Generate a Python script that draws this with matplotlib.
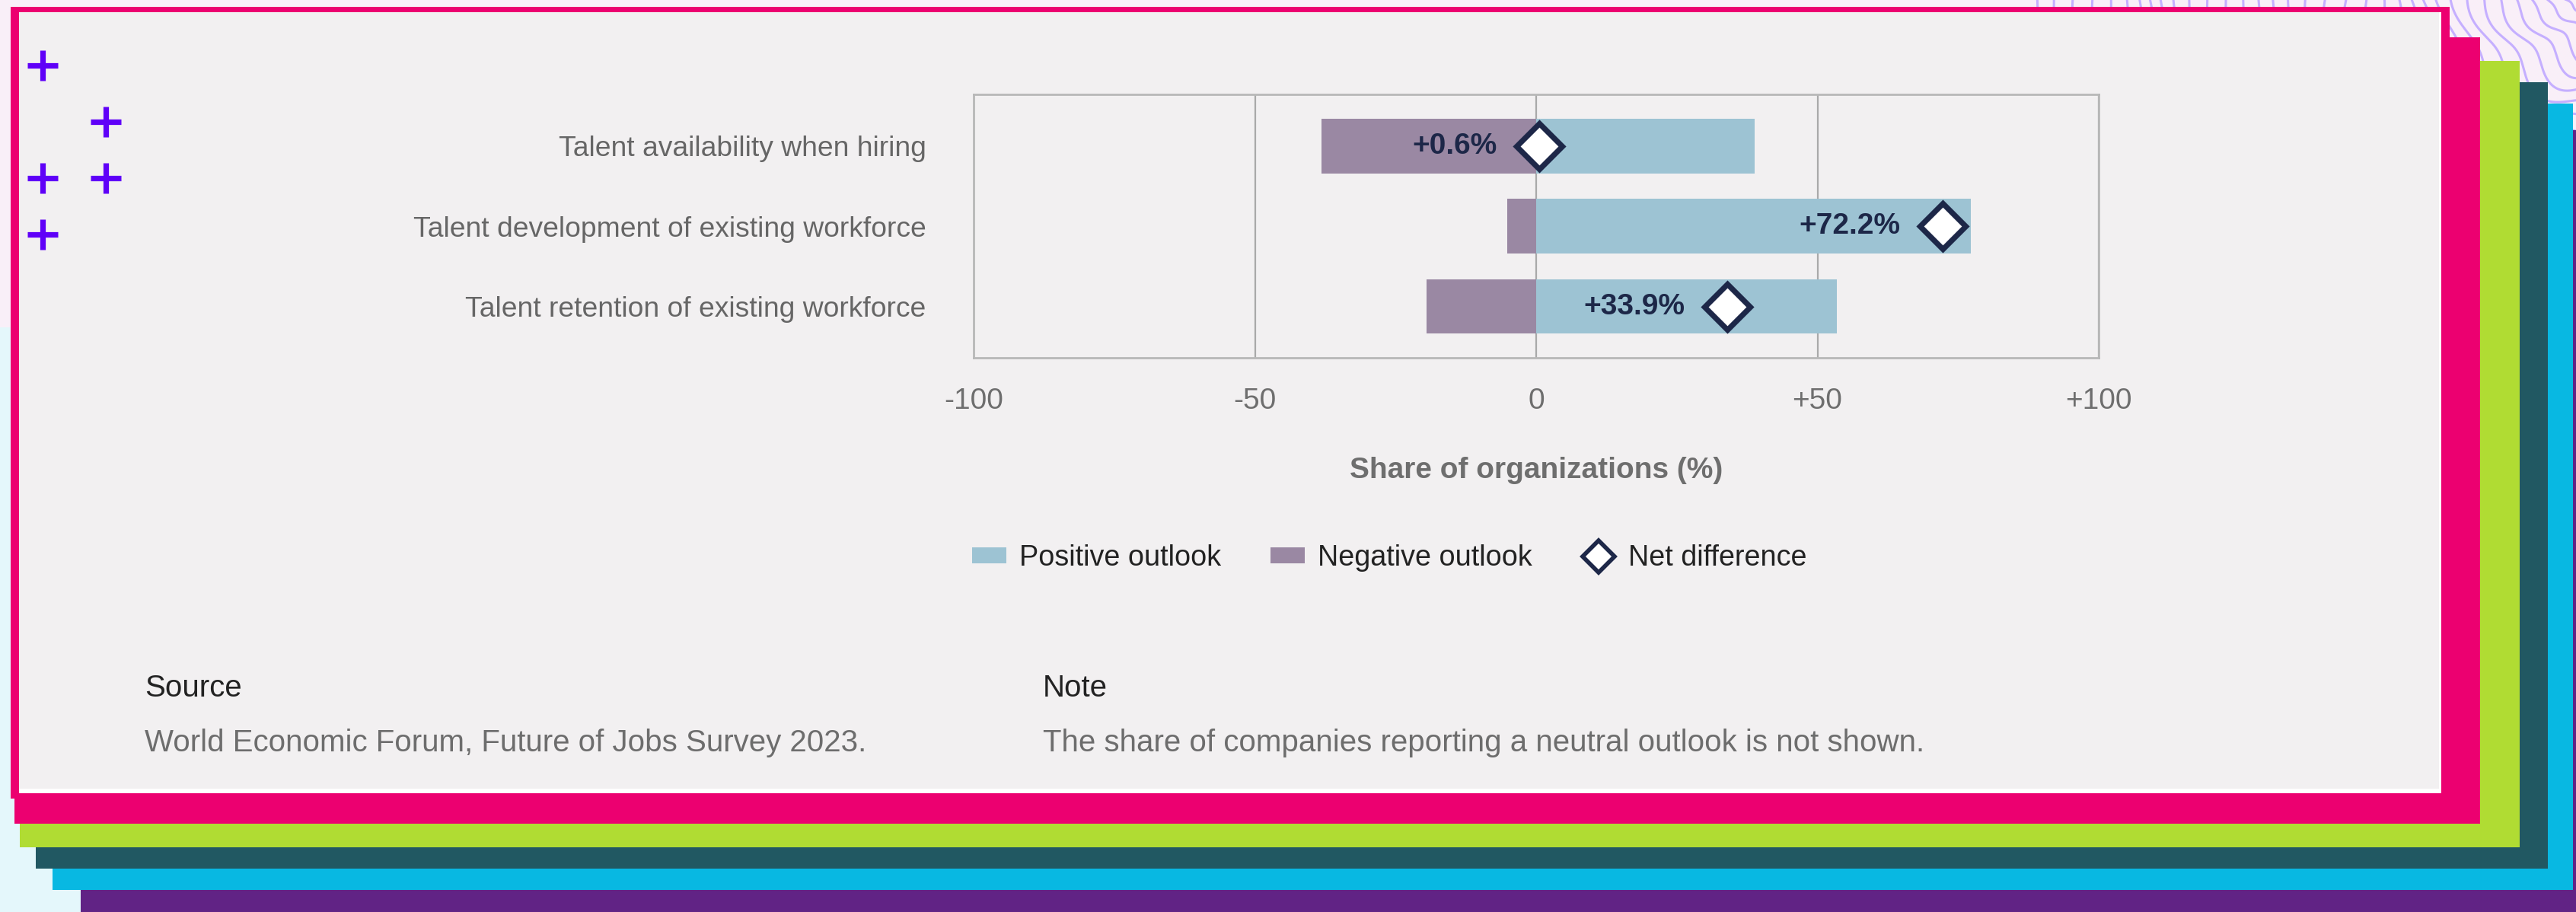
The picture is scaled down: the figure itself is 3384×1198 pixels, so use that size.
import numpy as np
import matplotlib
matplotlib.use("Agg")
import matplotlib.pyplot as plt
from matplotlib.patches import Rectangle, Patch
from matplotlib.lines import Line2D

plt.rcParams['font.family'] = ['Liberation Sans', 'DejaVu Sans']

# survey data (% of organizations)
categories = ["Talent availability when hiring",
              "Talent development of existing workforce",
              "Talent retention of existing workforce"]
positive = [38.8, 77.3, 53.4]
negative = [38.2, 5.1, 19.5]
net = [p - n for p, n in zip(positive, negative)]
xticks = [-100, -50, 0, 50, 100]
xticklabels = ["-100", "-50", "0", "+50", "+100"]

POS_COL = "#9dc3d3"
NEG_COL = "#9a88a3"
NAVY = "#1d2748"

W, H = 3384, 1198
DPI = 200
fig = plt.figure(figsize=(W / DPI, H / DPI), dpi=DPI)
fig.patch.set_facecolor("#f9eff8")


def fx(x):
    return np.asarray(x) / W


def fy(y):
    return 1 - np.asarray(y) / H


def box(x0, y0, x1, y1, color, z):
    fig.patches.append(Rectangle((fx(x0), fy(y1)), fx(x1 - x0), (y1 - y0) / H,
                                 transform=fig.transFigure, facecolor=color,
                                 edgecolor="none", zorder=z))


# background texture: pale cyan corner and lavender contour lines
box(0, 430, 60, 1198, "#e4f7fb", -10)
box(0, 1120, 110, 1198, "#e4f7fb", -10)
t = np.linspace(0, np.pi / 2, 500)
for i, r in enumerate(np.arange(30, 760, 21)):
    wob = 9 * np.sin(5 * t + i * 0.35) + 6 * np.sin(9 * t + i * 0.8)
    xs = 3420 - (r + wob) * np.cos(t)
    ys = -20 + (r + wob) * np.sin(t)
    fig.lines.append(Line2D(fx(xs), fy(ys), transform=fig.transFigure,
                            color="#c5afff", lw=1.1, zorder=-9))

# stacked coloured frames behind the card
box(106, 171, 3384, 1198, "#612385", -8)
box(69, 136, 3380, 1169, "#08b8e2", -7)
box(47, 108, 3347, 1141, "#215862", -6)
box(26, 80, 3310, 1113, "#b0dc33", -5)
box(19, 49, 3258, 1082, "#ec0070", -4)
box(14, 9, 3218, 1049, "#ec0070", -3)
box(25, 16, 3207, 1042, "#ffffff", -2)
box(25, 16, 3204, 1036, "#f2f0f1", -1)

# plus-sign motif
for cx, cy in [(56, 86), (139, 160), (56, 234), (139, 234), (56, 308)]:
    for dx, dy in [(20, 0), (0, 20)]:
        fig.lines.append(Line2D(fx([cx - dx, cx + dx]), fy([cy - dy, cy + dy]),
                                transform=fig.transFigure, color="#5f00f8",
                                lw=2.6, solid_capstyle="butt"))

# chart
ax = fig.add_axes([fx(1279), fy(470), fx(2757 - 1279), (470 - 124) / H])
ax.set_facecolor("none")
y = np.arange(len(categories))
ax.barh(y, positive, height=0.68, color=POS_COL, zorder=2)
ax.barh(y, [-n for n in negative], height=0.68, color=NEG_COL, zorder=2)
ax.plot(net, y, linestyle="none", marker="D", markersize=15.3,
        markerfacecolor="white", markeredgecolor=NAVY, markeredgewidth=2.6, zorder=4)
for yi, v in zip(y, net):
    ax.annotate(f"+{v:.1f}%", (v, yi), xytext=(-20, 0), textcoords="offset points",
                ha="right", va="center", fontsize=14, fontweight="bold",
                color=NAVY, zorder=5)

ax.set_xlim(-100, 100)
ax.set_ylim(2.64, -0.645)
ax.set_xticks(xticks)
ax.set_xticklabels(xticklabels)
ax.set_yticks(y)
ax.set_yticklabels(categories)
ax.tick_params(axis="x", length=0, pad=14, labelsize=14, labelcolor="#6e6e6e")
ax.tick_params(axis="y", length=0, pad=22.5, labelsize=13.4, labelcolor="#666666")
ax.grid(axis="x", color="#a9a9a9", lw=0.8, zorder=1)
for s in ax.spines.values():
    s.set_color("#b8b8b8")
    s.set_linewidth(1.0)

fig.text(fx(2018), fy(618), "Share of organizations (%)", ha="center", va="center",
         fontsize=14, fontweight="bold", color="#6e6e6e")

handles = [Patch(facecolor=POS_COL, label="Positive outlook"),
           Patch(facecolor=NEG_COL, label="Negative outlook"),
           Line2D([], [], linestyle="none", marker="D", markersize=10.5,
                  markerfacecolor="white", markeredgecolor=NAVY,
                  markeredgewidth=2.0, label="Net difference")]
fig.legend(handles=handles, loc="center left", bbox_to_anchor=(fx(1277), fy(733)),
           ncol=3, frameon=False, fontsize=13.6, labelcolor="#222222",
           handlelength=1.2, handleheight=0.45, handletextpad=0.45,
           columnspacing=1.7, borderpad=0, borderaxespad=0)

# footer
foot = dict(ha="left", va="center", fontsize=14.5)
fig.text(fx(190), fy(904), "Source", color="#222222", **foot)
fig.text(fx(190), fy(976), "World Economic Forum, Future of Jobs Survey 2023.",
         color="#6d6d6d", **foot)
fig.text(fx(1370), fy(904), "Note", color="#222222", **foot)
fig.text(fx(1370), fy(976), "The share of companies reporting a neutral outlook is not shown.",
         color="#6d6d6d", **foot)

fig.savefig("out.png", dpi=DPI, facecolor=fig.get_facecolor())
